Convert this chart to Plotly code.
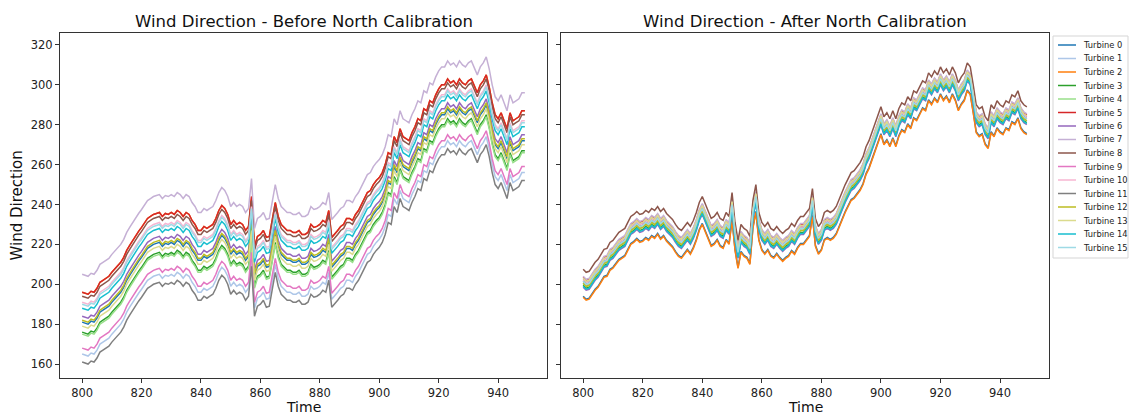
import plotly.graph_objects as go

# ---------------- data ----------------
time = list(range(800, 950))

turbines = [f"Turbine {i}" for i in range(16)]

colors = ["#1f77b4", "#aec7e8", "#ff7f0e", "#2ca02c", "#98df8a", "#d62728",
          "#9467bd", "#c5b0d5", "#8c564b", "#e377c2", "#f7b6d2", "#7f7f7f",
          "#bcbd22", "#dbdb8d", "#17becf", "#9edae5"]

# reference (central) wind direction before calibration, t = 800..949
base_before = [
    188, 187.5, 187, 188.5, 188, 190, 193, 194, 195, 196,
    198, 199.5, 201, 203, 205.5, 209, 211.5, 214, 216, 218.5,
    220.5, 222.5, 225, 226, 227, 227.5, 228, 226, 227.5, 227,
    228, 227, 229, 228, 226, 228, 227, 224, 222, 219,
    219, 221, 220, 221, 222, 225, 229, 231.5, 230, 227,
    222, 224, 222, 223, 222, 219, 221, 236, 211, 216,
    217, 219, 215.5, 216, 225, 233, 226, 222, 220.5, 219,
    219, 218, 218, 219, 217, 217, 218, 222, 220.5, 221,
    222, 224, 223, 229, 215.5, 217, 219, 221, 222, 225,
    225, 224, 227, 229, 232, 235.5, 238, 239, 242, 244,
    245.5, 248, 252, 258, 257, 266, 263, 270, 266, 265,
    264, 268, 271, 275, 274, 280, 279, 284, 283, 287,
    290, 292, 292, 295, 293, 294, 292, 295, 293, 292,
    294, 295, 291, 288, 292, 294, 297, 291, 283, 277,
    275, 278, 274, 270, 278, 274, 275, 276, 279, 279,
]

# reference (central) wind direction after calibration, t = 800..949
base_after = [
    200.5, 199, 199.5, 202, 204, 205.5, 208, 210.5, 211, 214,
    215, 217, 219, 220, 221, 224, 227, 228, 229.5, 228,
    228.5, 230, 229, 231, 230, 232, 229.5, 231, 228.5, 227,
    225.5, 223, 221, 220, 222, 224, 222, 225, 229, 234,
    237, 233, 230, 226, 227, 229, 226, 225, 229, 227,
    239, 224, 215, 223, 221, 220, 217, 235, 243, 229,
    224, 222, 224, 221, 220, 222, 220, 218.5, 220, 221,
    223.5, 222, 225, 227, 227, 229, 231, 241, 226, 222,
    224, 229, 230, 229, 230, 232, 236, 239, 243, 246,
    249, 250, 252, 254, 257, 262, 265, 269, 273, 277,
    282, 277, 279, 276, 280, 276, 281, 284, 283, 287,
    285, 290, 289, 292, 295, 294, 299, 297, 300, 298,
    302, 299, 301, 298, 302, 299, 294, 297, 299, 304,
    302, 293, 283, 281, 282, 277, 275, 283, 281, 285,
    283, 282, 285, 284, 288, 287, 290, 285, 283, 282,
]

# per-turbine offsets relative to the central curves
offset_before = [-7, -23, 8, -12, -13, 8, -4, 17, 6, -20, 3, -27, -6, -9, 0, 2]
offset_after = [-6.5, 0, -7, -1, 0, 3, -2, 3.5, 7, 2, 1.5, 1, 0, 2.5, -1.5, 1]

# ---------------- figure ----------------
W, H = 1130, 414
FONT = "DejaVu Sans"

fig = go.Figure()

for i, name in enumerate(turbines):
    yb = [v + offset_before[i] for v in base_before]
    ya = [v + offset_after[i] for v in base_after]
    fig.add_trace(go.Scatter(x=time, y=yb, mode="lines", name=name,
                             line=dict(color=colors[i], width=1.5),
                             xaxis="x", yaxis="y", showlegend=False))
    fig.add_trace(go.Scatter(x=time, y=ya, mode="lines", name=name,
                             line=dict(color=colors[i], width=1.5),
                             xaxis="x2", yaxis="y2", showlegend=False))

def px_x(p):
    return p / W

def px_y(p):
    return 1 - p / H

axis_common = dict(showline=True, mirror=True, linecolor="#333333", linewidth=1,
                   ticks="outside", ticklen=4, tickcolor="#333333", tickwidth=1,
                   showgrid=False, zeroline=False,
                   tickfont=dict(family=FONT, size=11.5, color="#222222"))

xr = [792.55, 956.45]
yr = [153, 326]
xt = [800, 820, 840, 860, 880, 900, 920, 940]
yt = [160, 180, 200, 220, 240, 260, 280, 300, 320]

fig.update_layout(
    width=W, height=H,
    margin=dict(l=0, r=0, t=0, b=0),
    paper_bgcolor="white", plot_bgcolor="white",
    showlegend=False,
    xaxis=dict(domain=[px_x(60), px_x(547)], range=xr, tickvals=xt, anchor="y", **axis_common),
    yaxis=dict(domain=[px_y(378), px_y(33)], range=yr, tickvals=yt, anchor="x", **axis_common),
    xaxis2=dict(domain=[px_x(561), px_x(1049)], range=xr, tickvals=xt, anchor="y2", **axis_common),
    yaxis2=dict(domain=[px_y(378), px_y(33)], range=yr, tickvals=yt,
                showticklabels=False, anchor="x2", **axis_common),
)

annotations = [
    dict(text="Wind Direction - Before North Calibration", x=px_x(303.5), y=px_y(21),
         font=dict(family=FONT, size=16.5, color="#111111")),
    dict(text="Wind Direction - After North Calibration", x=px_x(805), y=px_y(21),
         font=dict(family=FONT, size=16.5, color="#111111")),
    dict(text="Time", x=px_x(303.5), y=px_y(406.5),
         font=dict(family=FONT, size=14, color="#111111")),
    dict(text="Time", x=px_x(805), y=px_y(406.5),
         font=dict(family=FONT, size=14, color="#111111")),
    dict(text="Wind Direction", x=px_x(16), y=px_y(205.5), textangle=-90,
         font=dict(family=FONT, size=15, color="#111111")),
]
for a in annotations:
    a.update(xref="paper", yref="paper", showarrow=False, xanchor="center", yanchor="middle",
             borderpad=0)

# legend (drawn as shapes + text)
shapes = [dict(type="rect", xref="paper", yref="paper",
               x0=px_x(1053), x1=px_x(1128), y0=px_y(258), y1=px_y(36),
               line=dict(color="#d5d5d5", width=1), fillcolor="white", layer="above")]
for i, name in enumerate(turbines):
    yc = 45 + 13.5 * i
    shapes.append(dict(type="line", xref="paper", yref="paper",
                       x0=px_x(1058), x1=px_x(1076), y0=px_y(yc), y1=px_y(yc),
                       line=dict(color=colors[i], width=1.5), layer="above"))
    annotations.append(dict(text=name, xref="paper", yref="paper", showarrow=False,
                            x=px_x(1081), y=px_y(yc), xanchor="left", yanchor="middle",
                            font=dict(family=FONT, size=8.3, color="#222222")))

fig.update_layout(annotations=annotations, shapes=shapes)

fig.write_html("out.html")
